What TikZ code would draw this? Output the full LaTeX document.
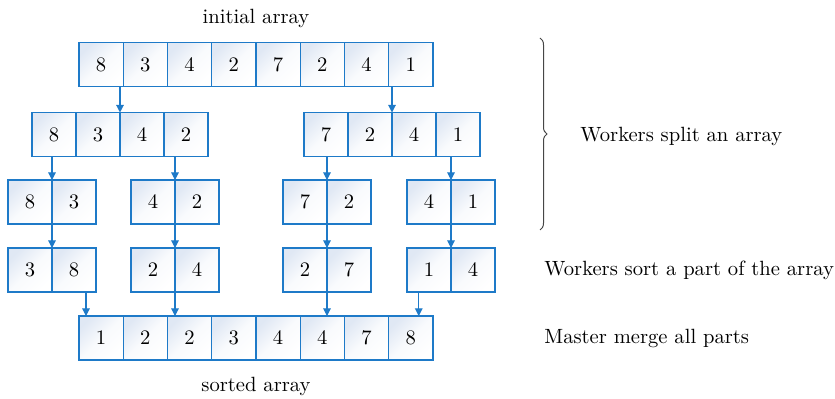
\documentclass[tikz,border=0pt]{standalone}
\usetikzlibrary{arrows.meta,decorations.pathreplacing}
\definecolor{cellline}{RGB}{30,122,200}
\definecolor{cellfill}{RGB}{224,232,244}
\definecolor{bracec}{RGB}{70,70,70}
\tikzset{
  cell/.style={draw=cellline, line width=0.55pt, top color=cellfill, bottom color=white, middle color=cellfill!20!white, shading angle=45,
    minimum width=22pt, minimum height=22pt, inner sep=0pt, outer sep=0pt, font=\fontsize{10.3}{12.5}\selectfont},
  wcell/.style={cell, minimum width=22.125pt},
  arr/.style={draw=cellline, line width=0.55pt, -{Triangle[width=3.8pt,length=3.8pt]}},
  lbl/.style={font=\fontsize{10.3}{12.5}\selectfont, inner sep=0pt},
}
\begin{document}
\begin{tikzpicture}[x=0.5pt,y=-0.5pt]
\useasboundingbox (0,0) rectangle (835,399);
% row 1: initial array
\foreach \v [count=\i] in {8,3,4,2,7,2,4,1}
  \node[wcell] (A\i) at ({79+44.25*(\i-0.5)},64.5) {\v};
% row 2
\foreach \v [count=\i] in {8,3,4,2}
  \node[cell] (B\i) at ({32+44*(\i-0.5)},134.5) {\v};
\foreach \v [count=\i] in {7,2,4,1}
  \node[cell] (C\i) at ({304+44*(\i-0.5)},134.5) {\v};
% row 3
\foreach \v [count=\i] in {8,3}
  \node[cell] (D\i) at ({8+44*(\i-0.5)},202) {\v};
\foreach \v [count=\i] in {4,2}
  \node[cell] (E\i) at ({131+44*(\i-0.5)},202) {\v};
\foreach \v [count=\i] in {7,2}
  \node[cell] (F\i) at ({283+44*(\i-0.5)},202) {\v};
\foreach \v [count=\i] in {4,1}
  \node[cell] (G\i) at ({407+44*(\i-0.5)},202) {\v};
% row 4
\foreach \v [count=\i] in {3,8}
  \node[cell] (H\i) at ({8+44*(\i-0.5)},270) {\v};
\foreach \v [count=\i] in {2,4}
  \node[cell] (I\i) at ({131+44*(\i-0.5)},270) {\v};
\foreach \v [count=\i] in {2,7}
  \node[cell] (J\i) at ({283+44*(\i-0.5)},270) {\v};
\foreach \v [count=\i] in {1,4}
  \node[cell] (K\i) at ({407+44*(\i-0.5)},270) {\v};
% row 5: sorted array
\foreach \v [count=\i] in {1,2,2,3,4,4,7,8}
  \node[wcell] (S\i) at ({79+44.25*(\i-0.5)},338) {\v};

% labels
\node[lbl] (tinit) at (256,18) {initial array};
\node[lbl] (tsort) at (256,386) {sorted array};
\node[lbl, anchor=west] (tsplit) at (580,136) {Workers split an array};
\node[lbl, anchor=west] (tpart) at (544,270) {Workers sort a part of the array};
\node[lbl, anchor=west] (tmerge) at (544,338) {Master merge all parts};

% brace
\coordinate (brtop) at (540,38);
\coordinate (brbot) at (540,230);
\draw[bracec, line width=0.5pt, decorate, decoration={brace, amplitude=3.5pt}] (brtop) -- (brbot);

% arrows row1 -> row2
\draw[arr] (A1.south -| B2.north east) -- (B2.north east);
\draw[arr] (A8.south -| C2.north east) -- (C2.north east);
% row2 -> row3
\draw[arr] (B1.south -| D1.north east) -- (D1.north east);
\draw[arr] (B4.south -| E1.north east) -- (E1.north east);
\draw[arr] (C1.south -| F1.north east) -- (F1.north east);
\draw[arr] (C4.south -| G1.north east) -- (G1.north east);
% row3 -> row4
\draw[arr] (D1.south east) -- (H1.north east);
\draw[arr] (E1.south east) -- (I1.north east);
\draw[arr] (F1.south east) -- (J1.north east);
\draw[arr] (G1.south east) -- (K1.north east);
% row4 -> row5
\coordinate (m1) at ([xshift=3.5pt]S1.north west);
\coordinate (m4) at ([xshift=15pt]S8.north west);
\draw[arr] (H2.south -| m1) -- (m1);
\draw[arr] (I1.south east) -- (I1.south east |- S3.north);
\draw[arr] (J1.south east) -- (J1.south east |- S6.north);
\draw[arr] (K1.south -| m4) -- (m4);
\end{tikzpicture}
\end{document}
